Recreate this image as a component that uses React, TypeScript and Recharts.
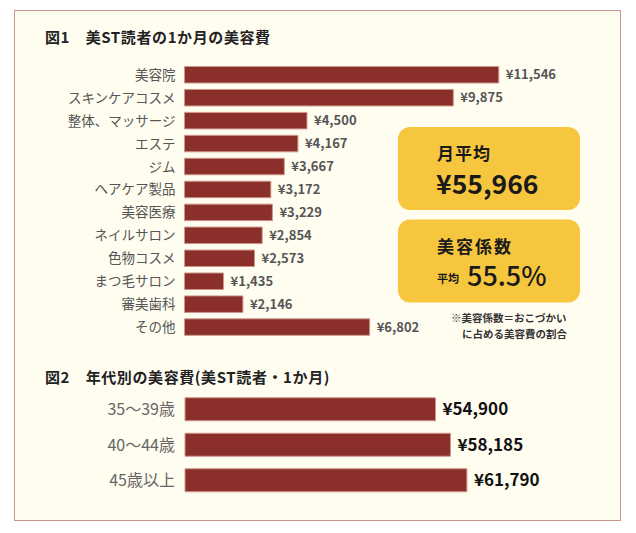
import { Bar, BarChart, LabelList, XAxis, YAxis } from "recharts";

const FONT = "'Noto Sans CJK JP', 'Noto Sans', sans-serif";
const BAR = "#8A2F2A";
const BAR_EDGE = "#CE968D";

// 図1: 美ST読者の1か月の美容費
const itemNames = [
  "美容院",
  "スキンケアコスメ",
  "整体、マッサージ",
  "エステ",
  "ジム",
  "ヘアケア製品",
  "美容医療",
  "ネイルサロン",
  "色物コスメ",
  "まつ毛サロン",
  "審美歯科",
  "その他",
];
const itemValues = [11546, 9875, 4500, 4167, 3667, 3172, 3229, 2854, 2573, 1435, 2146, 6802];

// 図2: 年代別の美容費
const ageNames = ["35～39歳", "40～44歳", "45歳以上"];
const ageValues = [54900, 58185, 61790];

const yen = (v: unknown) => "¥" + Number(v).toLocaleString("en-US");

export default function App() {
  const items = itemNames.map((name, i) => ({ name, value: itemValues[i] }));
  const ages = ageNames.map((name, i) => ({ name, value: ageValues[i] }));

  return (
    <div style={{ position: "relative", width: 636, height: 533, background: "#fff", fontFamily: FONT }}>
      <style>{`body{margin:0}`}</style>
      {/* cream panel */}
      <div
        style={{
          position: "absolute",
          left: 14,
          top: 10,
          width: 607,
          height: 511,
          boxSizing: "border-box",
          border: "1px solid #C8958C",
          background: "#FFFDF0",
        }}
      />

      {/* 図1 */}
      <BarChart
        width={636}
        height={345}
        data={items}
        layout="vertical"
        margin={{ top: 63.5, right: 16, bottom: 6.2, left: 0 }}
        style={{ position: "absolute", left: 0, top: 0 }}
      >
        <XAxis type="number" domain={[0, 16000]} hide />
        <YAxis
          type="category"
          dataKey="name"
          width={184.5}
          interval={0}
          tickLine={false}
          axisLine={false}
          tickSize={0}
          tickMargin={9}
          tick={{ fill: "#555", fontSize: 13.5, fontFamily: FONT }}
        />
        <Bar dataKey="value" fill={BAR} stroke={BAR_EDGE} strokeWidth={1} barSize={16.5} isAnimationActive={false}>
          <LabelList
            dataKey="value"
            position="right"
            offset={7}
            formatter={yen}
            style={{ fill: "#555", fontSize: 13, fontWeight: 700, fontFamily: FONT }}
          />
        </Bar>
      </BarChart>

      {/* 図2 */}
      <BarChart
        width={636}
        height={533}
        data={ages}
        layout="vertical"
        margin={{ top: 391.75, right: 86, bottom: 34.75, left: 0 }}
        style={{ position: "absolute", left: 0, top: 0 }}
      >
        <XAxis type="number" domain={[0, 80000]} hide />
        <YAxis
          type="category"
          dataKey="name"
          width={185}
          interval={0}
          tickLine={false}
          axisLine={false}
          tickSize={0}
          tickMargin={10}
          tick={{ fill: "#666", fontSize: 16, fontFamily: FONT }}
        />
        <Bar dataKey="value" fill={BAR} stroke={BAR_EDGE} strokeWidth={1} barSize={23} isAnimationActive={false}>
          <LabelList
            dataKey="value"
            position="right"
            offset={7}
            formatter={yen}
            style={{ fill: "#111", fontSize: 17, fontWeight: 700, fontFamily: FONT }}
          />
        </Bar>
      </BarChart>

      {/* titles, summary boxes, note */}
      <svg
        width={636}
        height={533}
        style={{ position: "absolute", left: 0, top: 0, pointerEvents: "none" }}
        fontFamily={FONT}
      >
        <text x={45} y={43} fontSize={15} fontWeight={700} fill="#222" letterSpacing={0.6}>
          図1　美ST読者の1か月の美容費
        </text>
        <text x={45} y={383} fontSize={15} fontWeight={700} fill="#222" letterSpacing={0.6}>
          図2　年代別の美容費(美ST読者・1か月)
        </text>

        <rect x={398} y={127} width={182} height={83} rx={12} fill="#F7C63F" />
        <text x={437} y={160} fontSize={17} fontWeight={700} fill="#1a1a1a" letterSpacing={1}>
          月平均
        </text>
        <text x={436} y={194} fontSize={26.5} fontWeight={700} fill="#1a1a1a">
          ¥55,966
        </text>

        <rect x={398} y={219.5} width={182} height={83} rx={12} fill="#F7C63F" />
        <text x={437} y={253} fontSize={17} fontWeight={700} fill="#1a1a1a" letterSpacing={2}>
          美容係数
        </text>
        <text x={437} y={283} fontSize={11} fontWeight={700} fill="#1a1a1a">
          平均
        </text>
        <text x={467} y={285.5} fontSize={27} fontWeight={500} fill="#1a1a1a">
          55.5%
        </text>

        <text x={451} y={322} fontSize={10.5} fontWeight={700} fill="#333">
          ※美容係数＝おこづかい
        </text>
        <text x={462} y={338} fontSize={10.5} fontWeight={700} fill="#333">
          に占める美容費の割合
        </text>
      </svg>
    </div>
  );
}
